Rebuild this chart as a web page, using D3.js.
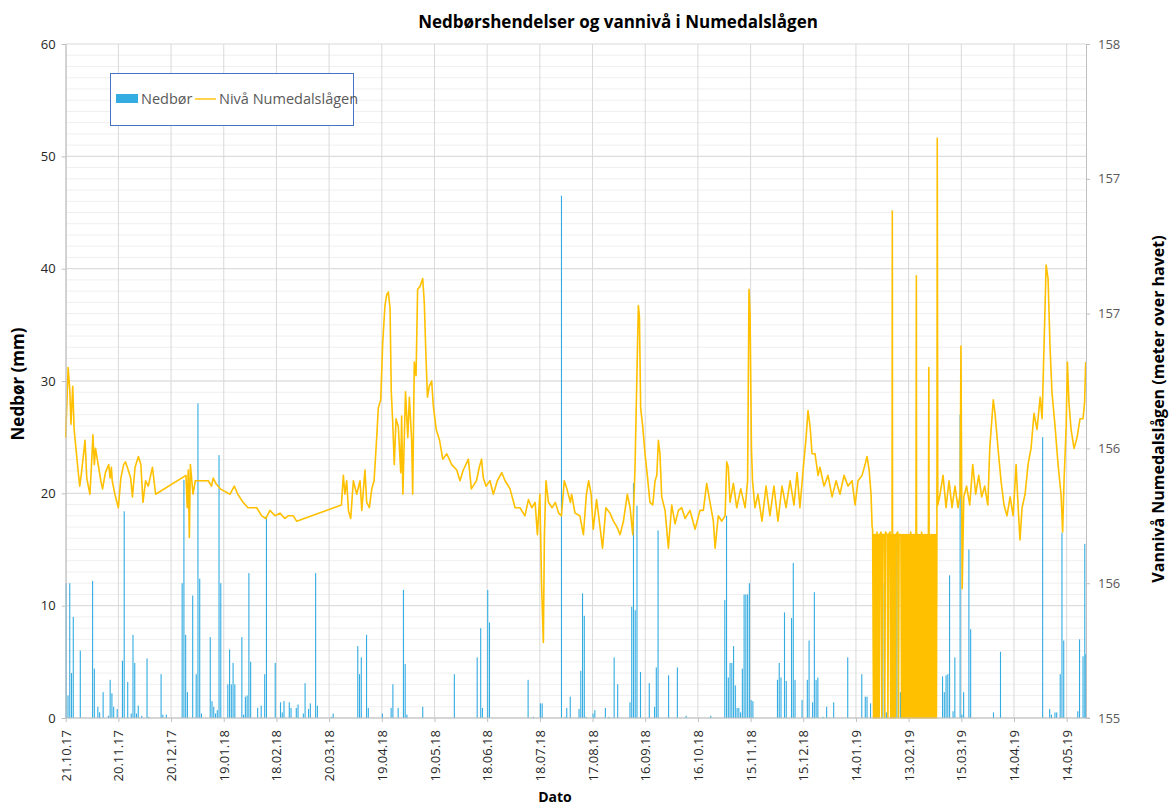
<!DOCTYPE html>
<html>
<head>
<meta charset="utf-8">
<script src="https://cdn.jsdelivr.net/npm/d3@7"></script>
<style>
body { margin: 0; background: #fff; }
text { font-family: "Open Sans", sans-serif; }
</style>
</head>
<body>
<div id="chart"></div>
<script>
// first date on the axis, everything else is days after it
var startDate = new Date(Date.UTC(2017, 9, 21));
var lastDay = 581;
var dateTickDays = [0,30,60,90,120,150,180,210,240,270,300,330,360,390,420,450,480,510,540,570];

var leftTicks = [0,10,20,30,40,50,60];
var rightTicks = [155,155.5,156,156.5,157,157.5];
var rightTickLabels = ["155","156","156","157","157","158"];

// daily precipitation [day, mm]
var rain = [[0,12],[1,2],[2,12],[3,4],[4,9],[8,6],[15,12.2],[16,4.4],[18,1],[19,0.5],[21,2.3],[24,0.2],[25,3.4],[26,2.2],[27,1],[29,0.8],
  [32,5.1],[33,18.4],[35,3.2],[37,0.4],[38,7.4],[39,4.9],[40,0.4],[41,1.1],[43,0.2],[46,5.3],[47,0.1],[54,3.9],[55,0.3],[57,0.3],
  [66,12],[67,21.2],[68,7.4],[69,2.3],[72,10.9],[74,3.9],[75,28],[76,12.4],[77,0.4],[82,7.2],[83,1.5],[84,1],[85,0.4],[86,0.7],
  [87,23.4],[88,12],[92,3],[93,6.1],[94,3],[95,4.9],[96,3],[100,7.2],[101,0.3],[102,1.9],[103,2],[104,12.9],[105,5],[109,0.9],
  [111,1.1],[113,3.9],[114,18],[119,4.9],[122,1.4],[123,0.5],[124,1.5],[127,1.4],[128,0.9],[131,0.9],[132,1.2],[135,0.4],[136,3.1],
  [138,0.8],[139,1.3],[142,12.9],[143,1.1],[151,0.1],[152,0.4],[166,6.4],[167,3.9],[168,5.4],[171,7.4],[172,0.9],[180,0.4],[185,0.9],
  [186,3],[189,0.9],[192,11.4],[193,4.8],[194,0.3],[203,1],[221,3.9],[234,5.4],[236,8],[237,0.9],[240,11.4],[241,8.5],[263,3.4],
  [266,0.1],[270,1.3],[271,1.3],[282,46.5],[284,0.1],[285,0.9],[287,1.9],[292,0.8],[293,4.2],[294,11.1],[295,9.1],[296,0.1],[300,0.4],
  [301,0.7],[307,0.9],[309,0.1],[312,5.4],[314,3],[321,1.4],[322,9.9],[323,20.9],[324,9.6],[325,18.9],[327,4.1],[332,3.1],[335,1],
  [336,4.5],[337,16.7],[343,3.8],[348,4.5],[353,0.2],[367,0.2],[375,10.5],[376,18],[377,3.6],[378,4.9],[379,4.9],[380,6.4],[381,2.9],
  [382,0.9],[383,0.9],[384,0.5],[385,4.4],[386,11],[387,11],[388,11],[389,12],[390,1.6],[391,1.5],[405,3.4],[406,4.9],[407,3.6],
  [409,9.4],[410,3.3],[413,8.9],[414,13.8],[415,3.4],[419,1.6],[422,3.4],[423,6.9],[425,1.4],[426,11.2],[427,3.4],[428,3.6],[431,0.1],
  [433,1],[437,1.4],[445,5.4],[453,3.9],[455,1.9],[456,1.9],[458,1.3],[462,0.2],[463,4.7],[465,12],[466,1.4],[467,0.5],[472,9.4],
  [473,16],[475,2.3],[478,5.4],[479,12],[486,4.1],[499,3.7],[500,2.3],[501,3.8],[502,3.9],[503,12.7],[505,0.6],[506,5.4],[509,27],
  [510,0.3],[511,2.3],[514,15],[515,7.9],[528,0.5],[532,5.9],[556,25],[560,0.8],[561,0.3],[563,0.5],[564,0.5],[566,3.9],[567,16.5],
  [568,6.9],[576,0.6],[577,7],[579,5.5],[580,15.5],[580.6,5.7]];

// water level [day, metres above sea]
var level = [[0,156.04],[1.4,156.30],[2.3,156.22],[3,156.09],[4,156.23],[4.8,156.07],[6,155.99],[7,155.92],[8,155.86],[9,155.91],
  [11,156.03],[12,155.89],[13.8,155.83],[14.7,155.94],[15.5,156.05],[16.3,155.94],[17,156.0],[18.5,155.94],[20,155.88],[21,155.85],
  [22.6,155.91],[24.5,155.94],[25.3,155.89],[26,155.93],[26.5,155.88],[28,155.83],[30,155.78],[31.4,155.89],[33,155.94],[34,155.95],
  [35.1,155.93],[37,155.89],[38,155.82],[39.5,155.93],[41.4,155.97],[42.8,155.94],[44,155.80],[45.5,155.88],[47,155.86],[49.4,155.93],
  [50.3,155.88],[51.2,155.83],
  [68.5,155.90],[69.2,155.78],[69.8,155.92],[70.4,155.67],[71,155.94],[72.5,155.83],[73.8,155.88],[75,155.88],[77,155.88],[79.3,155.88],
  [81.2,155.88],[83,155.86],[84,155.89],[85.5,155.87],[88,155.85],[93.6,155.83],[96,155.86],[98,155.83],[101,155.80],[103.8,155.78],
  [106,155.78],[108.8,155.78],[111.6,155.75],[114,155.74],[116.3,155.77],[119.2,155.75],[122,155.76],[124.8,155.74],[126.7,155.75],
  [129.6,155.75],[131.5,155.73],
  [157,155.79],[158.1,155.90],[159,155.83],[160,155.88],[161,155.77],[162.3,155.74],[163.8,155.88],[165.7,155.83],[167.6,155.88],
  [168.6,155.77],[170.4,155.92],[171.4,155.80],[172.9,155.78],[174.3,155.85],[175.6,155.88],[177.1,156.04],[178,156.15],[179.4,156.18],
  [180.5,156.39],[181.8,156.53],[182.8,156.57],[183.7,156.58],[184.7,156.52],[185.4,156.21],[186.2,156.10],[187.1,155.94],[188.1,156.11],
  [189.4,156.08],[190.8,155.91],[191.3,156.12],[192,155.83],[193.5,156.21],[194.8,156.04],[195.7,156.19],[197,156.03],[197.6,155.83],
  [198.5,156.32],[199.5,156.27],[200.4,156.59],[201.7,156.60],[203.3,156.63],[204.2,156.54],[205.2,156.33],[206,156.19],[207,156.23],
  [208.4,156.25],[209.3,156.16],[211,156.07],[212.9,156.03],[214.7,155.96],[217,155.98],[219.8,155.94],[222.7,155.92],[224.5,155.88],
  [226.4,155.92],[229.3,155.96],[231,155.85],[233.9,155.88],[235.5,155.93],[236.8,155.96],[237.8,155.89],[239.4,155.86],[241.6,155.88],
  [243.5,155.83],[245.8,155.88],[248.3,155.91],[250.2,155.88],[253,155.85],[255.9,155.78],[258.7,155.78],[261.5,155.75],[263.5,155.81],
  [265.4,155.78],[267.3,155.80],[268.6,155.68],[270,155.83],[271,155.49],[272,155.28],[272.6,155.68],[273.5,155.88],[274.9,155.80],
  [277,155.78],[278.8,155.80],[280.7,155.76],[282.3,155.75],[283.9,155.88],[285.4,155.85],[287.4,155.80],[288.1,155.83],[290,155.76],
  [292.8,155.75],[294.8,155.68],[296.5,155.83],[297.8,155.88],[299.2,155.83],[300.4,155.70],[302.3,155.81],[303.5,155.75],[305.7,155.63],
  [307.6,155.78],[309.9,155.76],[311.9,155.73],[313.8,155.71],[315.7,155.68],[317.6,155.73],[319.8,155.83],[321.4,155.78],[322.9,155.68],
  [324.2,155.93],[325.2,156.25],[326.1,156.53],[326.7,156.49],[327.4,156.15],[328.6,156.08],[329.9,155.98],[331.2,155.90],[332.7,155.80],
  [334.3,155.79],[335.6,155.88],[336.6,155.90],[337.5,156.03],[338.4,155.98],[339.4,155.82],[341.3,155.77],[343.2,155.63],[345.1,155.79],
  [347,155.72],[348.9,155.77],[350.8,155.78],[352.7,155.74],[355.5,155.77],[358.4,155.70],[361.2,155.77],[363.1,155.77],[365,155.87],
  [366.9,155.80],[368.8,155.73],[369.8,155.63],[371.6,155.75],[373.6,155.73],[375.5,155.75],[376.4,155.95],[377.3,155.93],[378.3,155.80],
  [380.2,155.87],[382.1,155.78],[384.4,155.85],[386.9,155.78],[388.3,155.88],[389.1,156.59],[389.7,156.50],[390.5,156.0],[391.1,155.88],
  [392.5,155.78],[394.2,155.83],[396.5,155.73],[398.8,155.86],[401,155.75],[403.3,155.86],[405.6,155.73],[407.9,155.86],[410.2,155.78],
  [412.5,155.88],[414.7,155.79],[416.5,155.91],[418.1,155.78],[419.9,155.92],[421.6,156.04],[422.7,156.14],[423.9,156.08],[425,155.98],
  [426.7,155.98],[428.4,155.90],[429.5,155.93],[431.8,155.86],[434.1,155.90],[436.4,155.82],[438.7,155.88],[440.9,155.83],[443.2,155.90],
  [445.5,155.86],[447.8,155.88],[449.5,155.79],[451.2,155.88],[453.5,155.90],[455.2,155.94],[456.3,155.97],[457.5,155.92],[458.6,155.83],
  [459.2,155.71],
  [459.5,155.70],[460,155],[460.4,155.68],[460.8,155],[461.2,155.68],[461.6,155],[462,155.69],[462.4,155],[462.8,155.68],[463.2,155],
  [463.6,155.68],[464.3,155.69],[464.7,155],[465.1,155.68],[466,155.68],[466.4,155],[466.8,155.69],[467.8,155.68],[468.2,155],
  [468.6,155.68],[469.4,155.69],[469.8,155],[470.2,155.68],[470.5,155],[470.7,156.88],[470.9,155],[471.3,155.68],[471.7,155],
  [472.1,155.68],[472.5,155],[472.9,155.68],[473.8,155.69],[474.2,155],[474.6,155.68],[475.6,155.68],[476,155],[476.4,155.68],
  [476.8,155],[477.2,155.68],[477.6,155],[478,155.68],[478.4,155],[478.8,155.68],[479.2,155],[479.6,155.68],[480,155],[480.4,155.68],
  [480.8,155],[481.2,155.69],[481.6,155],[482,155.68],[482.4,155],[482.8,155.68],[483.2,155],[483.6,155.68],[484,155],[484.4,156.64],
  [484.6,155],[485,155.68],[485.4,155],[485.8,155.68],[486.2,155],[486.6,155.68],[487,155],[487.4,155.69],[487.8,155],[488.2,155.68],
  [488.6,155],[489,155.68],[489.4,155],[489.8,155.68],[490.2,155],[490.6,155.68],[491,155],[491.5,156.30],[491.8,155],[492.2,155.68],
  [492.6,155],[493,155.68],[493.4,155],[493.8,155.68],[494.2,155],[494.6,155.68],[495,155],[495.4,155.68],[495.8,155],[496.1,155.68],
  [496.3,157.15],[496.6,155.79],
  [497.9,155.83],[499.6,155.90],[501.3,155.78],[503,155.88],[504.7,155.78],[506.4,155.86],[508.1,155.78],[509.3,155.83],[509.8,156.38],
  [510.5,155.48],[511.4,155.82],[513,155.86],[514.8,155.79],[516.5,155.94],[518.2,155.83],[519.9,155.90],[521.6,155.82],[523.3,155.86],
  [525.1,155.79],[526.2,156.0],[528.2,156.18],[529.2,156.13],[530.9,156.0],[532.6,155.88],[534.3,155.79],[536,155.75],[537.8,155.82],
  [539.5,155.75],[541.2,155.94],[542.3,155.79],[543.4,155.66],[544.6,155.78],[546.3,155.83],[548,155.94],[549.7,156.0],[551.4,156.13],
  [553.1,156.07],[554.9,156.19],[556,156.11],[557.1,156.38],[558.3,156.68],[559.4,156.63],[560.5,156.38],[561.6,156.21],[563.4,156.08],
  [565.1,155.94],[566.8,155.83],[567.7,155.69],[568.5,155.88],[569.7,156.08],[570.4,156.32],[571.3,156.17],[572.5,156.07],[574.2,156.0],
  [575.9,156.04],[577.6,156.11],[579.3,156.11],[580.2,156.17],[580.8,156.32]];

var plot = {left: 65.7, right: 1086, top: 44, bottom: 718};

function dayDate(d) { return new Date(startDate.getTime() + d * 864e5); }

var svg = d3.select("#chart")
  .append("svg")
    .attr("width", 1173)
    .attr("height", 805);

var x = d3.scaleUtc()
  .domain([startDate, dayDate(lastDay)])
  .range([plot.left, plot.right]);

var yLeft = d3.scaleLinear()
  .domain([0, 60])
  .range([plot.bottom, plot.top]);

var yRight = d3.scaleLinear()
  .domain([155, 157.5])
  .range([plot.bottom, plot.top]);

// minor horizontal grid, every mm
svg.append("g")
  .selectAll("line")
  .data(d3.range(1, 60))
  .enter().append("line")
    .attr("x1", plot.left).attr("x2", plot.right)
    .attr("y1", function(d) { return yLeft(d); })
    .attr("y2", function(d) { return yLeft(d); })
    .attr("stroke", "#efefef");

// major horizontal grid
svg.append("g")
  .selectAll("line")
  .data(leftTicks)
  .enter().append("line")
    .attr("x1", plot.left).attr("x2", plot.right)
    .attr("y1", function(d) { return yLeft(d); })
    .attr("y2", function(d) { return yLeft(d); })
    .attr("stroke", "#d9d9d9");

var tickDates = dateTickDays.map(dayDate);

// vertical grid at date ticks
svg.append("g")
  .selectAll("line")
  .data(tickDates)
  .enter().append("line")
    .attr("x1", function(d) { return x(d); })
    .attr("x2", function(d) { return x(d); })
    .attr("y1", plot.top).attr("y2", plot.bottom)
    .attr("stroke", "#d9d9d9");

// bars
svg.append("g")
  .selectAll("rect")
  .data(rain)
  .enter().append("rect")
    .attr("x", function(d) { return x(dayDate(d[0])); })
    .attr("y", function(d) { return yLeft(d[1]); })
    .attr("width", 1.1)
    .attr("height", function(d) { return plot.bottom - yLeft(d[1]); })
    .attr("fill", "#33ace2");

// water level
var line = d3.line()
  .x(function(d) { return x(dayDate(d[0])); })
  .y(function(d) { return yRight(d[1]); });

svg.append("path")
  .datum(level)
  .attr("d", line)
  .attr("fill", "none")
  .attr("stroke", "#ffc000")
  .attr("stroke-width", 1.6)
  .attr("stroke-linejoin", "round");

// axes
var leftAxis = svg.append("g")
  .attr("transform", "translate(" + plot.left + ",0)")
  .call(d3.axisLeft(yLeft).tickValues(leftTicks).tickSize(4).tickPadding(6));

var rightAxis = svg.append("g")
  .attr("transform", "translate(" + plot.right + ",0)")
  .call(d3.axisRight(yRight).tickValues(rightTicks).tickSize(4).tickPadding(8)
    .tickFormat(function(d, i) { return rightTickLabels[i]; }));

var bottomAxis = svg.append("g")
  .attr("transform", "translate(0," + plot.bottom + ")")
  .call(d3.axisBottom(x).tickValues(tickDates).tickSize(4)
    .tickFormat(d3.utcFormat("%d.%m.%y")));

[leftAxis, rightAxis, bottomAxis].forEach(function(a) {
  a.select(".domain").attr("stroke", "#bfbfbf");
  a.selectAll(".tick line").attr("stroke", "#bfbfbf");
  a.selectAll("text").style("font-family", "'Open Sans', sans-serif").style("font-size", "13px");
});
bottomAxis.select(".domain").attr("d", "M" + plot.left + ",0H" + (plot.right + 4));
leftAxis.selectAll("text").attr("fill", "#262626");
rightAxis.selectAll("text").attr("fill", "#595959");

bottomAxis.selectAll("text")
  .attr("fill", "#262626")
  .attr("transform", "rotate(-90)")
  .attr("x", -12)
  .attr("y", 0)
  .attr("dy", "0.35em")
  .style("text-anchor", "end");

// titles
svg.append("text")
  .attr("x", 618).attr("y", 28)
  .attr("text-anchor", "middle")
  .style("font-size", "17px").style("font-weight", "bold")
  .attr("fill", "#000")
  .text("Nedbørshendelser og vannivå i Numedalslågen");

svg.append("text")
  .attr("transform", "translate(24,384) rotate(-90)")
  .attr("text-anchor", "middle")
  .style("font-size", "17px").style("font-weight", "bold")
  .text("Nedbør (mm)");

svg.append("text")
  .attr("transform", "translate(1164,409) rotate(-90)")
  .attr("text-anchor", "middle")
  .style("font-size", "16px").style("font-weight", "bold")
  .text("Vannivå Numedalslågen (meter over havet)");

svg.append("text")
  .attr("x", 555).attr("y", 802)
  .attr("text-anchor", "middle")
  .style("font-size", "14px").style("font-weight", "bold")
  .text("Dato");

// legend
var legend = svg.append("g");
legend.append("rect")
  .attr("x", 110.5).attr("y", 73.5)
  .attr("width", 243).attr("height", 52)
  .attr("fill", "#fff").attr("stroke", "#4472c4");
legend.append("rect")
  .attr("x", 116).attr("y", 94)
  .attr("width", 22).attr("height", 9)
  .attr("fill", "#33ace2");
legend.append("text")
  .attr("x", 141).attr("y", 104)
  .style("font-size", "14.5px").attr("fill", "#595959")
  .text("Nedbør");
legend.append("line")
  .attr("x1", 195).attr("x2", 216)
  .attr("y1", 99).attr("y2", 99)
  .attr("stroke", "#ffc000").attr("stroke-width", 1.4);
legend.append("text")
  .attr("x", 219).attr("y", 104)
  .style("font-size", "14.5px").attr("fill", "#595959")
  .text("Nivå Numedalslågen");
</script>
</body>
</html>
